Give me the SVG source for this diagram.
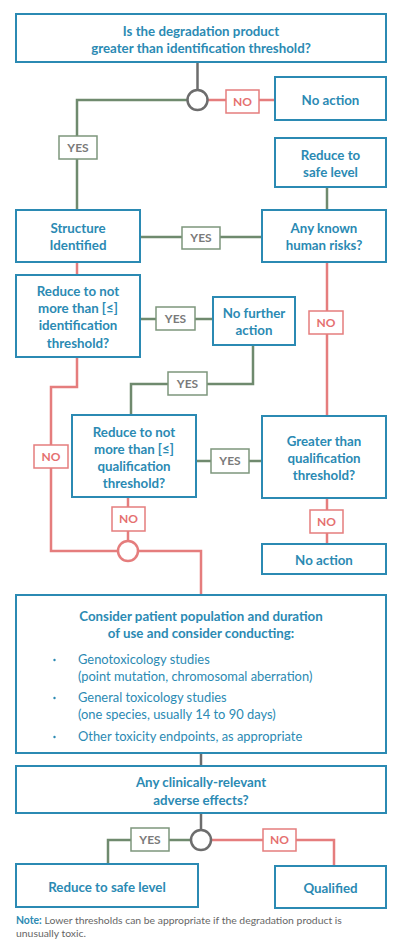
<svg xmlns="http://www.w3.org/2000/svg" width="400" height="942" viewBox="0 0 400 942">
<style>
.box{fill:#fff;stroke:#2b8ab3;stroke-width:2}
.t{font-family:Lato,"Open Sans","Liberation Sans",sans-serif;font-weight:700;font-size:13.3px;fill:#2b8ab3;text-anchor:middle}
.r{font-family:Lato,"Open Sans","Liberation Sans",sans-serif;font-weight:400;font-size:12.9px;fill:#2b8ab3}
.b{fill:#2b8ab3}
.g{fill:none;stroke:#6f8a6e;stroke-width:2.5}
.rd{fill:none;stroke:#e57d7d;stroke-width:2.5}
.gy{fill:none;stroke:#6d6d6d;stroke-width:2.5}
.lg{fill:#fff;stroke:#7d967c;stroke-width:1.5}
.lr{fill:#fff;stroke:#e57d7d;stroke-width:1.5}
.ty{font-family:Lato,"Open Sans","Liberation Sans",sans-serif;font-weight:700;font-size:12px;fill:#7a7a7a;text-anchor:middle}
.tn{font-family:Lato,"Open Sans","Liberation Sans",sans-serif;font-weight:700;font-size:12px;fill:#e57070;text-anchor:middle}
.note{font-family:Lato,"Open Sans","Liberation Sans",sans-serif;font-size:10.4px;fill:#666}
</style>
<rect width="400" height="942" fill="#fff"/>
<g id="connectors">
<path class="gy" d="M197.5 63V89"/>
<path class="g" d="M187 100H77V210"/>
<path class="rd" d="M208 100H275"/>
<path class="g" d="M327 187V210"/>
<path class="g" d="M140 237H262"/>
<path class="rd" d="M77 262V275"/>
<path class="g" d="M140 319H213"/>
<path class="g" d="M253 345V384H131V415"/>
<path class="rd" d="M327 262V416"/>
<path class="rd" d="M77 357V387H51V551H118"/>
<path class="g" d="M196 461H262"/>
<path class="rd" d="M327 498V544"/>
<path class="rd" d="M128 497V540"/>
<path class="rd" d="M138 551H201V595"/>
<path class="gy" d="M201 753V766"/>
<path class="gy" d="M201 813V830"/>
<path class="g" d="M191 840H108V864"/>
<path class="rd" d="M211 840H334V866"/>
<circle class="gy" cx="197.5" cy="100" r="10"/>
<circle class="rd" cx="128" cy="551" r="10"/>
<circle class="gy" cx="201" cy="840" r="10"/>
<rect class="lr" x="226" y="90" width="33" height="23"/><text class="tn" x="242.5" y="105.5">NO</text>
<rect class="lg" x="59" y="136" width="38" height="23"/><text class="ty" x="78" y="151.5">YES</text>
<rect class="lg" x="182" y="227" width="38" height="22"/><text class="ty" x="201" y="242">YES</text>
<rect class="lg" x="156" y="307" width="39" height="23"/><text class="ty" x="175.5" y="322.5">YES</text>
<rect class="lg" x="168" y="372" width="39" height="23"/><text class="ty" x="187.5" y="387.5">YES</text>
<rect class="lr" x="309" y="311" width="34" height="23"/><text class="tn" x="326" y="326.5">NO</text>
<rect class="lr" x="34" y="445" width="34" height="23"/><text class="tn" x="51" y="460.5">NO</text>
<rect class="lg" x="211" y="449" width="38" height="24"/><text class="ty" x="230" y="465">YES</text>
<rect class="lr" x="310" y="510" width="33" height="23"/><text class="tn" x="326.5" y="525.5">NO</text>
<rect class="lr" x="112" y="507" width="33" height="24"/><text class="tn" x="128.5" y="523">NO</text>
<rect class="lg" x="131" y="828" width="38" height="23"/><text class="ty" x="150" y="843.5">YES</text>
<rect class="lr" x="263" y="829" width="33" height="22"/><text class="tn" x="279.5" y="844">NO</text>
</g>
<g id="q1"><rect class="box" x="16" y="14" width="370" height="48"/><text class="t" x="201" y="35.5">Is the degradation product</text><text class="t" x="201" y="52.5">greater than identification threshold?</text></g>
<g id="noaction1"><rect class="box" x="275" y="77" width="111" height="43"/><text class="t" x="330.5" y="104.5">No action</text></g>
<g id="reduce1"><rect class="box" x="275" y="138" width="111" height="49"/><text class="t" x="330.5" y="159.5">Reduce to</text><text class="t" x="330.5" y="176.5">safe level</text></g>
<g id="structure"><rect class="box" x="16" y="210" width="124" height="52"/><text class="t" x="78" y="232.5">Structure</text><text class="t" x="78" y="249.5">Identified</text></g>
<g id="risks"><rect class="box" x="262" y="210" width="124" height="52"/><text class="t" x="324" y="232.5">Any known</text><text class="t" x="324" y="249.5">human risks?</text></g>
<g id="reduceid"><rect class="box" x="16" y="275" width="124" height="82"/><text class="t" x="78" y="295.5">Reduce to not</text><text class="t" x="78" y="312.5">more than [≤]</text><text class="t" x="78" y="330">identification</text><text class="t" x="78" y="347.5">threshold?</text></g>
<g id="nofurther"><rect class="box" x="213" y="297" width="82" height="48"/><text class="t" x="254" y="317.5">No further</text><text class="t" x="254" y="334.5">action</text></g>
<g id="reduceq"><rect class="box" x="72" y="415" width="124" height="82"/><text class="t" x="134" y="436.5">Reduce to not</text><text class="t" x="134" y="453.5">more than [≤]</text><text class="t" x="134" y="470.5">qualification</text><text class="t" x="134" y="487.5">threshold?</text></g>
<g id="greaterq"><rect class="box" x="262" y="416" width="124" height="82"/><text class="t" x="324" y="445.5">Greater than</text><text class="t" x="324" y="462.5">qualification</text><text class="t" x="324" y="480">threshold?</text></g>
<g id="noaction2"><rect class="box" x="262" y="544" width="124" height="30"/><text class="t" x="324" y="565">No action</text></g>
<g id="consider"><rect class="box" x="16" y="595" width="370" height="158"/>
<text class="t" x="201" y="620.5">Consider patient population and duration</text><text class="t" x="201" y="637.5">of use and consider conducting:</text>
<circle class="b" cx="54.5" cy="660" r="1.2"/><text class="r" x="78" y="663.5">Genotoxicology studies</text>
<text class="r" x="78" y="680.5">(point mutation, chromosomal aberration)</text>
<circle class="b" cx="54.5" cy="698" r="1.2"/><text class="r" x="78" y="701.5">General toxicology studies</text>
<text class="r" x="78" y="718.5">(one species, usually 14 to 90 days)</text>
<circle class="b" cx="54.5" cy="737" r="1.2"/><text class="r" x="78" y="740.5">Other toxicity endpoints, as appropriate</text></g>
<g id="clinical"><rect class="box" x="16" y="766" width="370" height="47"/><text class="t" x="201" y="786.5">Any clinically-relevant</text><text class="t" x="201" y="804.5">adverse effects?</text></g>
<g id="reduce2"><rect class="box" x="16" y="864" width="182" height="43"/><text class="t" x="107" y="891.5">Reduce to safe level</text></g>
<g id="qualified"><rect class="box" x="275" y="866" width="111" height="42"/><text class="t" x="330.5" y="892.5">Qualified</text></g>
<g id="note"><text class="note" x="16" y="924"><tspan font-weight="700" fill="#2b8ab3">Note:</tspan> Lower thresholds can be appropriate if the degradation product is</text><text class="note" x="16" y="937">unusually toxic.</text></g>
</svg>
